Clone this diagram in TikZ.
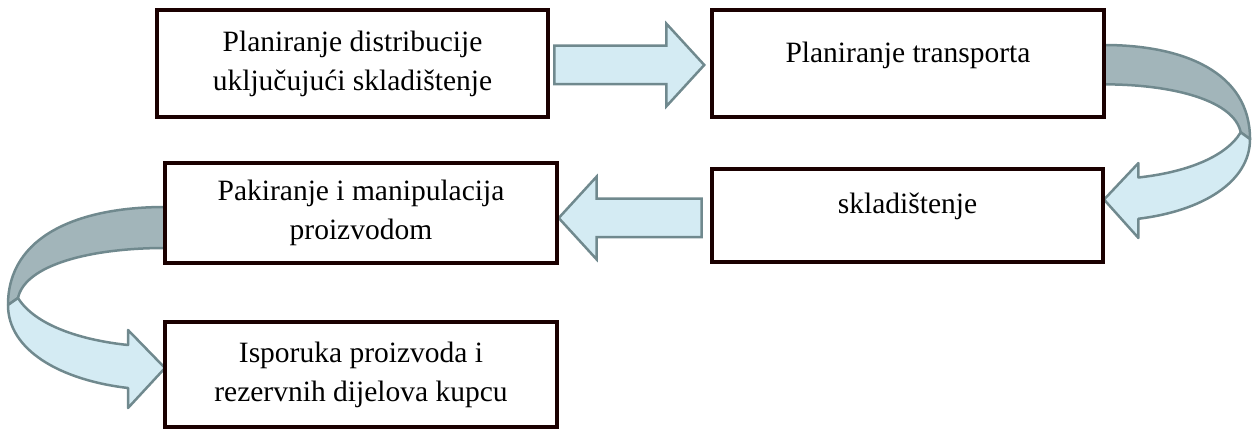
\documentclass[tikz,border=0pt]{standalone}
\usepackage{fontspec}
\setmainfont{Liberation Serif}
\usetikzlibrary{shapes.arrows}

\definecolor{boxline}{RGB}{26,0,0}
\definecolor{arrowline}{RGB}{112,137,142}
\definecolor{arrowblue}{RGB}{212,235,243}
\definecolor{arrowgray}{RGB}{162,181,186}

\tikzset{
  stepbox/.style={draw=boxline, line width=4pt, fill=white, inner sep=0pt, align=center, font=\fontsize{29.5}{39}\selectfont},
  steptext/.style={inner sep=0pt, font=\fontsize{29.5}{39}\selectfont},
  blockarrow/.style={shape=single arrow, draw=arrowline, line width=2.5pt, fill=arrowblue, inner xsep=0pt, inner ysep=18pt, single arrow head extend=22pt, single arrow tip angle=95},
  backband/.style={draw=arrowline, line width=2.5pt, fill=arrowgray, line join=round},
  frontband/.style={draw=arrowline, line width=2.5pt, fill=arrowblue, line join=round}
}

% curved arrow, drawn from the top of its tail
\newcommand{\bentarrow}{
  \draw[backband] (0,0) .. controls (-85,0) and (-157,28) .. (-157,98) -- (-147,91)
    .. controls (-140,58) and (-75,41) .. (0,41) -- cycle;
  \draw[frontband] (-147,91) .. controls (-130,118) and (-85,133) .. (-37,138) -- (-37,123)
    -- (0,161) -- (-37,201) -- (-37,181) .. controls (-105,173) and (-157,143) .. (-157,98) -- cycle;
}

\begin{document}
\begin{tikzpicture}[x=1pt,y=-1pt]
			\useasboundingbox (0,0) rectangle (1252,430);
			
			% Draw curved arrows
			\begin{scope}[shift={(165,207)}]
				\bentarrow
			\end{scope}
			\begin{scope}[shift={(1104,45)},xscale=-0.93,yscale=0.96]
				\bentarrow
			\end{scope}
			
			% Draw straight arrows
			\node[blockarrow, minimum height=150pt, anchor=tail] (a1) at (553,65) {};
			\node[blockarrow, minimum height=143pt, shape border rotate=180, anchor=tip] (a2) at (557,218) {};
			
			% Draw boxes
			\node[stepbox, minimum width=391pt, minimum height=107pt] (b1) at (352.5,63.5)
				{Planiranje distribucije\\ uključujući skladištenje};
			\node[stepbox, minimum width=392pt, minimum height=107pt] (b2) at (908,63.5) {};
			\node[stepbox, minimum width=392pt, minimum height=100pt] (b3) at (361,213)
				{Pakiranje i manipulacija\\ proizvodom};
			\node[stepbox, minimum width=391pt, minimum height=93pt] (b4) at (907.5,215.5) {};
			\node[stepbox, minimum width=392pt, minimum height=105pt] (b5) at (361,374.5)
				{Isporuka proizvoda i\\ rezervnih dijelova kupcu};
			
			% Add labels
			\node[steptext] (t2) at (908,55) {Planiranje transporta};
			\node[steptext] (t4) at (907.5,206) {skladištenje};
		\end{tikzpicture}
\end{document}
